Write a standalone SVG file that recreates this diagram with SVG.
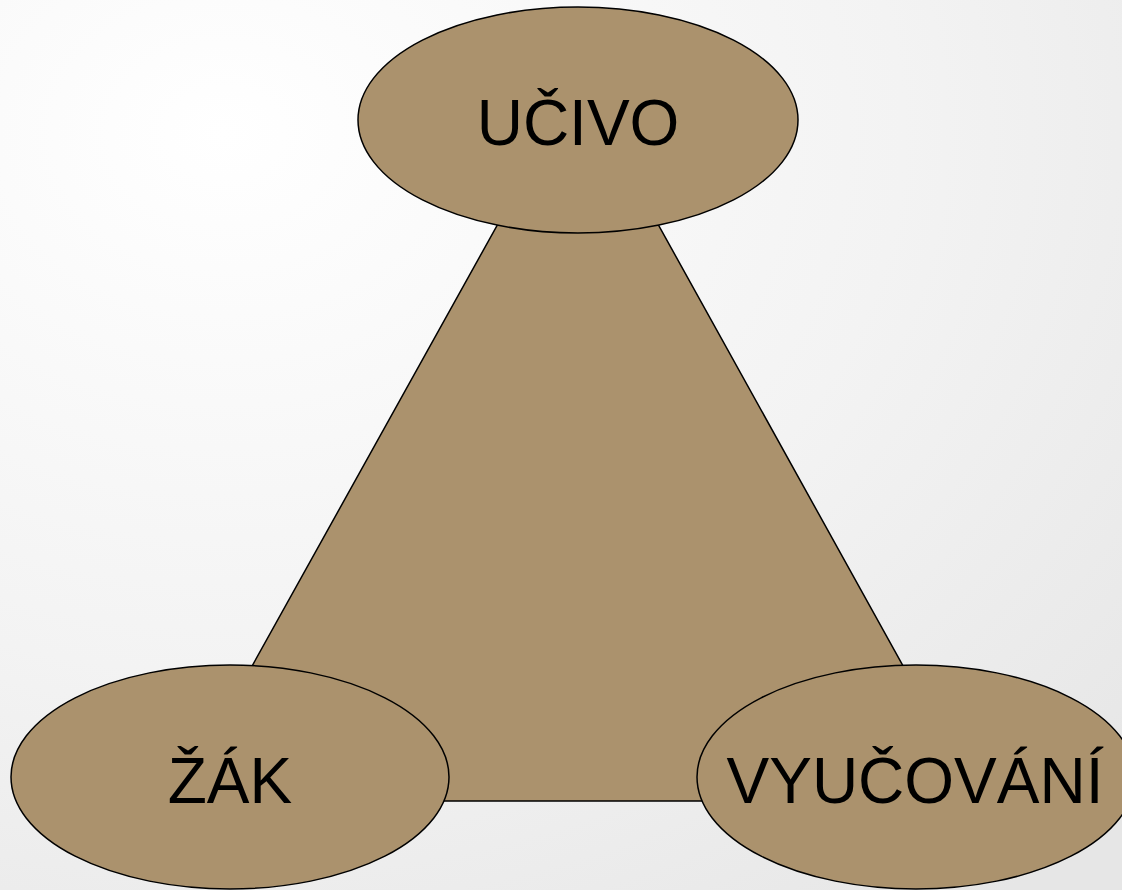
<svg xmlns="http://www.w3.org/2000/svg" width="1122" height="890" viewBox="0 0 1122 890">
  <defs>
    <radialGradient id="bg" cx="0.2" cy="0.15" r="1.1">
      <stop offset="0" stop-color="#ffffff"/>
      <stop offset="0.55" stop-color="#f3f3f3"/>
      <stop offset="1" stop-color="#e6e6e6"/>
    </radialGradient>
  </defs>
  <style>
    .shape { fill: #ab926d; stroke: #000000; stroke-width: 1.5; }
    .label { font-family: "Liberation Sans", Arial, sans-serif; font-size: 64px; fill: #000000; text-anchor: middle; }
  </style>
  <rect width="1122" height="890" fill="url(#bg)"/>

  <!-- central triangle linking the three concepts -->
  <g id="connectors">
    <polygon class="shape" points="578,80 978,801 177,801"/>
  </g>

  <g id="node-ucivo">
    <ellipse class="shape" cx="578" cy="120" rx="220" ry="113"/>
    <text class="label" x="578" y="145">UČIVO</text>
  </g>

  <g id="node-zak">
    <ellipse class="shape" cx="230" cy="777" rx="219" ry="112"/>
    <text class="label" x="230" y="803">ŽÁK</text>
  </g>

  <g id="node-vyucovani">
    <ellipse class="shape" cx="916" cy="777" rx="219" ry="112"/>
    <text class="label" x="915" y="803">VYUČOVÁNÍ</text>
  </g>
</svg>
